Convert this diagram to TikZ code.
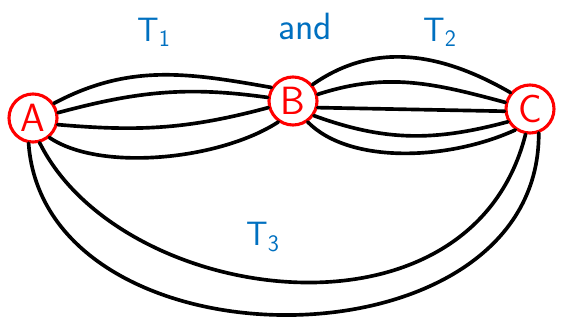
\documentclass[tikz,border=0pt]{standalone}
\usepackage{tikz}
\usetikzlibrary{calc}

\begin{document}
\begin{tikzpicture}[
    x=0.025cm, y=-0.025cm,
    vert/.style={circle, draw=red, line width=2.2pt, minimum size=1.2cm, inner sep=0pt, text=red, font=\sffamily\fontsize{28}{30}\selectfont},
    edge/.style={line width=2.6pt, line cap=round},
    lbl/.style={text={rgb,255:red,0;green,112;blue,192}, font=\sffamily\fontsize{24}{26}\selectfont}
]
\useasboundingbox (0,0) rectangle (563,321);
\node[vert] (A) at (33,118) {A};
\node[vert] (B) at (293,101) {B};
\node[vert] (C) at (530,109) {C};

\node[lbl] (t1) at (154,32) {T\textsubscript{1}};
\node[lbl, font=\sffamily\fontsize{27}{29}\selectfont] (and) at (305,26) {and};
\node[lbl] (t2) at (440,32) {T\textsubscript{2}};
\node[lbl] (t3) at (263,237) {T\textsubscript{3}};

% A -- B
\draw[edge] (A.35) to[out=28,in=170] (B.148);
\draw[edge] (A.12) to[out=15,in=172] (B.172);
\draw[edge] (A.-15) to[out=-5,in=-165] (B.-165);
\draw[edge] (A.-50) .. controls (100,172) and (220,160) .. (B.-125);
% B -- C
\draw[edge] (B.40) to[out=35,in=150] (C.140);
\draw[edge] (B.15) to[out=18,in=165] (C.165);
\draw[edge] (B.-15) -- (C.-175);
\draw[edge] (B.-35) to[out=-20,in=-165] (C.-150);
\draw[edge] (B.-55) .. controls (350,165) and (450,160) .. (C.-125);
% A -- C
\draw[edge] (A.-75) .. controls (120,305) and (470,355) .. (C.-100);
\draw[edge] (A.-100) .. controls (45,374) and (540,374) .. (C.-70);
\end{tikzpicture}
\end{document}
